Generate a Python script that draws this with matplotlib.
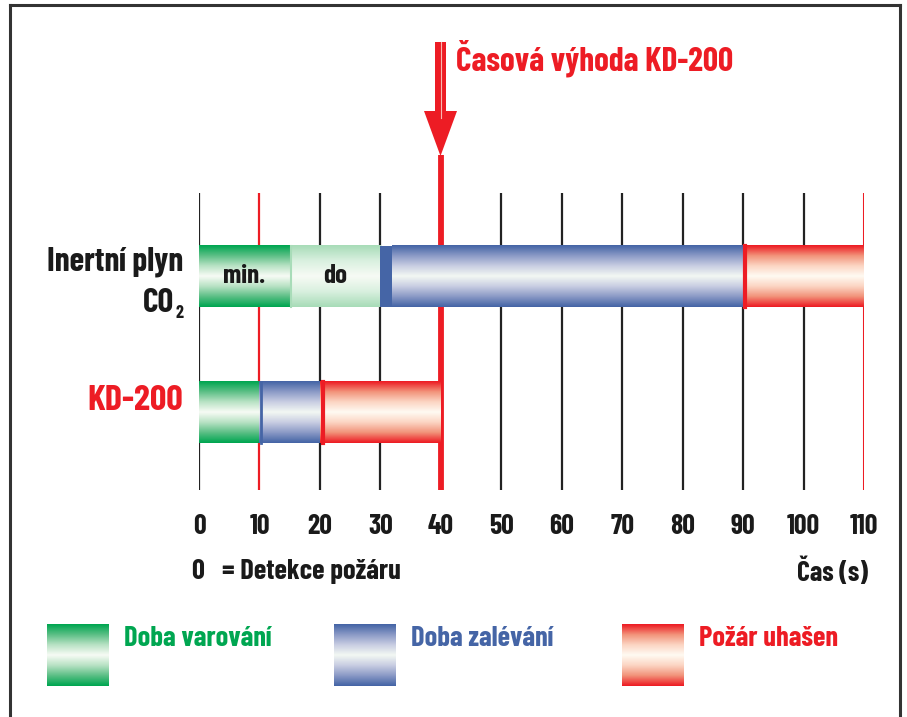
import numpy as np
import matplotlib
matplotlib.use("Agg")
import matplotlib.pyplot as plt
from matplotlib.colors import LinearSegmentedColormap
from matplotlib.patches import Polygon, Rectangle
from matplotlib.lines import Line2D

plt.rcParams["font.family"] = ["Barlow Condensed", "Roboto Condensed", "DejaVu Sans"]
plt.rcParams["font.weight"] = "bold"

# ---- data ----
ticks = [0, 10, 20, 30, 40, 50, 60, 70, 80, 90, 100, 110]
red_ticks = [10, 40, 110]
co2_start = [0, 15, 30, 32, 90]
co2_end = [15, 30, 32, 90, 110]
co2_kind = ["warn", "warn_light", "flood_solid", "flood", "done"]
kd_start = [0, 10, 20]
kd_end = [10, 20, 40]
kd_kind = ["warn", "flood", "done"]
seg_text = ["min.", "do"]
seg_text_x = [7.5, 22.5]
advantage_x = 40

GREEN = "#00a651"
BLUE = "#4565a6"
RED = "#ed1c24"
INK = "#1a1a1a"

W, H = 907, 717
fig = plt.figure(figsize=(W / 100, H / 100), dpi=100)

def fx(x):
    return x / W

def fy(y):
    return 1 - y / H

cmaps = {
    "warn": LinearSegmentedColormap.from_list("g", ["#f7fbf5", "#b8e2c4", "#5cbf86", GREEN]),
    "warn_light": LinearSegmentedColormap.from_list("gl", ["#f7fbf5", "#d9f0df", "#a8dcb8"]),
    "flood": LinearSegmentedColormap.from_list("b", ["#f3f8f3", "#c8cde2", "#8b9ac6", BLUE]),
    "done": LinearSegmentedColormap.from_list("r", ["#fffaf2", "#fcd5c3", "#f2937a", RED]),
}

prof = np.abs(np.linspace(-1, 1, 80))[:, None]


def grad(ax, x0, x1, y0, y1, kind):
    if kind == "flood_solid":
        ax.add_patch(Rectangle((x0, y0), x1 - x0, y1 - y0, color=BLUE, lw=0, zorder=3))
        return
    img = cmaps[kind](prof)
    ax.imshow(img, extent=(x0, x1, y0, y1), aspect="auto", interpolation="bilinear",
              zorder=3)


# main axes: x=0 at px 199, x=110 at px 864; y from px 193 to 490
ax = fig.add_axes([fx(199), fy(490), fx(665), 297 / H])
ylo, yhi = -0.57, 1.614
h = 0.45

for t in ticks:
    if t == advantage_x:
        ax.plot([t, t], [ylo, yhi + (193 - 155) / 136], color=RED, lw=4.2,
                clip_on=False, zorder=2, solid_capstyle="butt")
    elif t in red_ticks:
        ax.axvline(t, color=RED, lw=2.2 if t == 110 else 1.6, zorder=2)
    else:
        ax.axvline(t, color="#222222", lw=1.6, zorder=2)

for s, e, k in zip(co2_start, co2_end, co2_kind):
    grad(ax, s, e, 1 - h / 2, 1 + h / 2, k)
for s, e, k in zip(kd_start, kd_end, kd_kind):
    grad(ax, s, e, -h / 2, h / 2, k)

# edges of segments
ax.plot([90.3, 90.3], [1 - h / 2, 1 + h / 2], color=RED, lw=3, zorder=4)
ax.plot([20.5, 20.5], [-h / 2, h / 2], color=RED, lw=3, zorder=4)
ax.plot([10.2, 10.2], [-h / 2, h / 2], color=BLUE, lw=2, zorder=4)
ax.plot([15.2, 15.2], [1 - h / 2, 1 + h / 2], color="#a8dcb8", lw=1.5, zorder=4)

for txt, x in zip(seg_text, seg_text_x):
    ax.text(x, 1.0, txt, ha="center", va="center", fontsize=19.5, color=INK, zorder=5)

ax.set_xlim(0, 110)
ax.set_ylim(ylo, yhi)
ax.axis("off")

for t in ticks:
    ax.text(t, (490 - 526) / 297, str(t), transform=ax.get_xaxis_transform(),
            ha="center", va="center", fontsize=20, color=INK)

# arrow
fig.patches.append(Rectangle((fx(435), fy(113)), fx(11), fy(42) - fy(113),
                             transform=fig.transFigure, color=RED, lw=0))
fig.patches.append(Polygon([(fx(424), fy(111)), (fx(457), fy(111)), (fx(440.5), fy(156))],
                           closed=True, transform=fig.transFigure, color=RED, lw=0))
fig.lines.append(Line2D([fx(440.5), fx(440.5)], [fy(42), fy(118)], transform=fig.transFigure,
                        color="#f9b7b0", lw=0.8))
fig.text(fx(456), fy(58), "Časová výhoda KD-200", color=RED, fontsize=24,
         ha="left", va="center")

# row labels
fig.text(fx(183), fy(262), "Inertní plyn", ha="right", va="center", fontsize=24, color=INK)
fig.text(fx(174), fy(303), "CO", ha="right", va="center", fontsize=24, color=INK)
fig.text(fx(176), fy(314), "2", ha="left", va="center", fontsize=13, color=INK)
fig.text(fx(183), fy(401), "KD-200", ha="right", va="center", fontsize=26, color=RED)

fig.text(fx(192), fy(572), "0   = Detekce požáru", ha="left", va="center", fontsize=20.5, color=INK)
fig.text(fx(868), fy(572), "Čas (s)", ha="right", va="center", fontsize=20, color=INK)

# legend
leg = [(47, "warn", "Doba varování", GREEN),
       (334, "flood", "Doba zalévání", BLUE),
       (622, "done", "Požár uhašen", RED)]
for x0, k, lab, c in leg:
    lax = fig.add_axes([fx(x0), fy(686), fx(62), 62 / H])
    lax.imshow(cmaps[k](prof), aspect="auto", interpolation="bilinear")
    lax.axis("off")
    fig.text(fx(x0 + 77), fy(638), lab, ha="left", va="center", fontsize=20.5, color=c)

# frame
for xs, ys in [([10, 10], [5, 717]), ([10, 900], [5, 5]), ([900, 900], [5, 717])]:
    fig.lines.append(Line2D([fx(v) for v in xs], [fy(v) for v in ys],
                            transform=fig.transFigure, color="#333333", lw=2.2))

fig.savefig("out.png", dpi=100)
